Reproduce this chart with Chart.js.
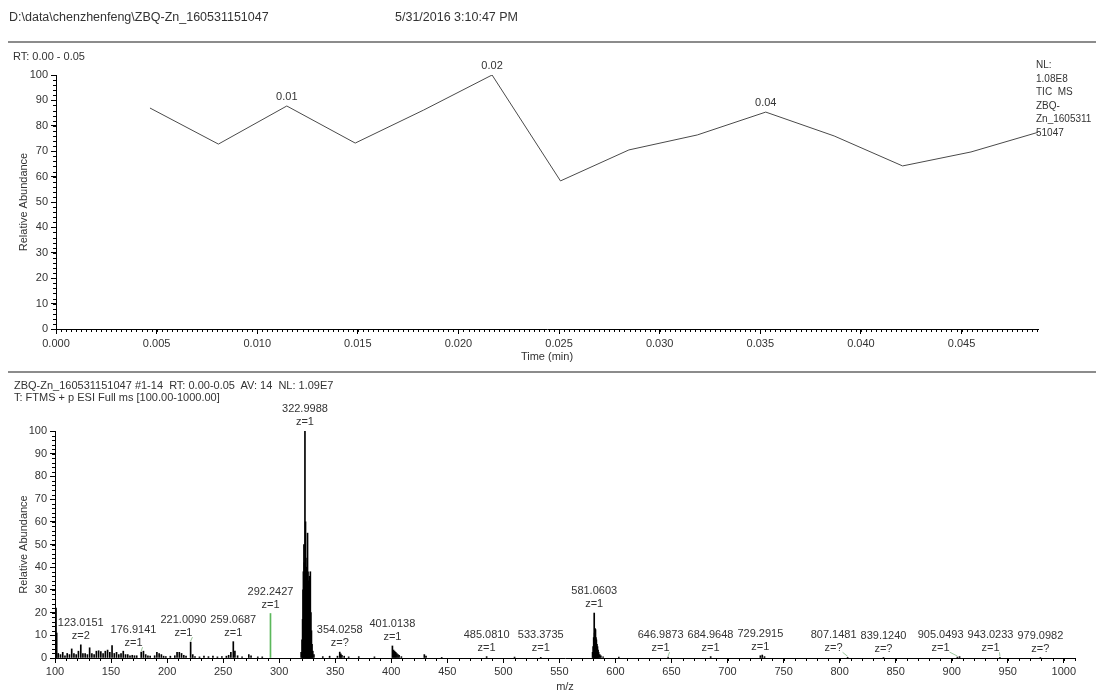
<!DOCTYPE html>
<html>
<head>
<meta charset="utf-8">
<title>ZBQ-Zn_160531151047</title>
<script src="https://cdn.jsdelivr.net/npm/chart.js@4.4.0/dist/chart.umd.min.js"></script>
<style>
  body { margin: 0; background: #fff; font-family: Arial, "Liberation Sans", sans-serif; color: #333; }
  #page { position: relative; width: 1096px; height: 691px; overflow: hidden; }
  .txt { position: absolute; font-size: 12.5px; white-space: pre; line-height: 14px; z-index: 2; }
  .small { font-size: 11px; }
  .rule { position: absolute; left: 8px; right: 0; height: 2px; background: #8c8c8c; z-index: 2; }
  canvas { position: absolute; left: 0; }
</style>
</head>
<body>
<div id="page">
  <div class="txt" style="left:9px;top:10px">D:\data\chenzhenfeng\ZBQ-Zn_160531151047</div>
  <div class="txt" style="left:395px;top:10px">5/31/2016 3:10:47 PM</div>
  <div class="rule" style="top:41px"></div>
  <div class="txt small" style="left:13px;top:49px">RT: 0.00 - 0.05</div>
  <div class="txt small" style="left:1036px;top:58px;line-height:13.5px;font-size:10px">NL:
1.08E8
TIC  MS
ZBQ-
Zn_1605311
51047</div>
  <canvas id="tic" width="1096" height="370" style="top:0"></canvas>

  <div class="rule" style="top:371px"></div>
  <div class="txt small" style="left:14px;top:379px;line-height:12px">ZBQ-Zn_160531151047 #1-14  RT: 0.00-0.05  AV: 14  NL: 1.09E7
T: FTMS + p ESI Full ms [100.00-1000.00]</div>
  <canvas id="spec" width="1096" height="319" style="top:372px"></canvas>
</div>

<script>
// TIC trace (time in min, relative abundance %)
const ticTimes = [0.00467, 0.00807, 0.01147, 0.01487, 0.01827, 0.02167, 0.02507,
                  0.02847, 0.03187, 0.03527, 0.03867, 0.04207, 0.04547, 0.04887];
const ticAbund = [87.0, 72.8, 87.8, 73.2, 86.2, 100, 58.3, 70.5, 76.4, 85.4, 76.0, 64.2, 69.7, 77.6];
const ticTimeTicks = [0, 0.005, 0.010, 0.015, 0.020, 0.025, 0.030, 0.035, 0.040, 0.045];
const abundTicks = [0, 10, 20, 30, 40, 50, 60, 70, 80, 90, 100];

// Labelled centroids of the averaged spectrum
const labelMz = [123.0151, 176.9141, 221.0090, 259.0687, 292.2427, 322.9988, 354.0258, 401.0138,
                 485.0810, 533.3735, 581.0603, 646.9873, 684.9648, 729.2915, 807.1481, 839.1240,
                 905.0493, 943.0233, 979.0982];
const labelAbund = [5.8, 2.6, 7.0, 7.2, 19.6, 100, 2.6, 5.3, 0.6, 0.3, 19.8, 0.4, 0.6, 1.0, 0.3, 0.2,
                    0.4, 0.3, 0.2];
const labelCharge = ['2', '1', '1', '1', '1', '1', '?', '1', '1', '1', '1', '1', '1', '1', '?', '?',
                     '1', '1', '?'];

// Unlabelled peaks
const otherMz = [100.9, 101.5, 102.9, 104.9, 106.9, 108.9, 110.9, 112.9, 114.9, 116.9, 118.9, 120.9,
                 124.9, 126.9, 128.9, 130.9, 132.9, 134.9, 136.9, 138.9, 140.9, 142.9, 144.9, 146.9,
                 148.9, 150.9, 152.9, 154.9, 156.9, 158.9, 160.9, 162.9, 164.9, 166.9, 168.9, 170.9,
                 172.9, 178.9, 180.9, 182.9, 184.9, 188.9, 190.9, 192.9, 194.9, 196.9, 198.9, 202.9,
                 206.9, 208.9, 210.9, 212.9, 214.9, 216.9, 222.9, 224.9, 228.9, 232.9, 236.9, 240.9,
                 244.9, 248.9, 252.9, 254.9, 256.9, 260.5, 262.9, 266.9, 272.9, 274.9, 280.9, 284.9,
                 319.6, 320.4, 320.9, 321.3, 321.6, 322.1, 322.5, 323.5, 323.8, 324.2, 324.6, 325.0,
                 325.3, 325.7, 326.1, 326.5, 327.0, 327.4, 327.8, 328.3, 328.8, 329.3, 330.0, 331.0,
                 338.9, 345.0, 352.0, 355.0, 356.0, 358.0, 362.0, 371.0, 385.0,
                 402.0, 403.0, 404.0, 405.0, 406.0, 407.0, 409.0, 429.5, 431.0, 445.0, 510.0,
                 579.6, 580.1, 580.6, 581.4, 581.8, 582.2, 582.6, 583.0, 583.5, 584.0, 584.5, 585.0,
                 586.0, 587.0, 589.0, 603.0, 731.0, 733.0, 907.0];
const otherAbund = [22.0, 11.0, 2.0, 1.5, 2.5, 1.0, 2.0, 1.5, 4.0, 2.0, 1.5, 3.0,
                    2.0, 2.0, 1.5, 4.5, 2.0, 1.5, 3.0, 3.2, 2.8, 2.0, 3.0, 3.5,
                    2.5, 5.5, 2.0, 2.5, 1.5, 2.0, 3.0, 1.5, 1.5, 1.0, 1.2, 1.0,
                    1.0, 3.0, 1.5, 1.0, 0.8, 1.0, 2.5, 2.0, 1.5, 0.8, 0.6, 0.8,
                    1.0, 2.5, 2.5, 2.0, 1.2, 0.8, 1.5, 0.6, 0.5, 0.8, 0.6, 0.8,
                    0.5, 0.6, 0.8, 1.2, 2.5, 3.0, 1.0, 0.5, 1.5, 1.0, 0.5, 0.5,
                    2.5, 8.0, 17.0, 30.0, 38.0, 50.0, 42.0, 60.0, 44.0, 40.0, 36.0, 39.0,
                    55.0, 38.0, 34.0, 30.0, 36.0, 26.0, 38.0, 20.0, 12.0, 6.0, 3.0, 1.5,
                    0.6, 0.8, 0.8, 1.8, 1.2, 0.8, 0.5, 0.6, 0.5,
                    3.5, 3.0, 2.5, 2.0, 1.5, 1.2, 0.6, 1.5, 0.8, 0.3, 0.4,
                    2.5, 5.0, 9.0, 11.0, 13.0, 12.5, 9.0, 8.0, 6.0, 5.0, 3.5, 2.5,
                    1.5, 1.0, 0.5, 0.4, 1.3, 0.6, 0.6];
const mzTicks = [100, 150, 200, 250, 300, 350, 400, 450, 500, 550, 600, 650, 700, 750, 800, 850,
                 900, 950, 1000];

const highlightMz = 292.2427;
const textColor = '#333';

Chart.defaults.font.family = 'Arial, "Liberation Sans", sans-serif';
Chart.defaults.font.size = 11;
Chart.defaults.color = textColor;

// small ticks between the labelled ones, plus the axis titles
const axisExtras = {
  id: 'axisExtras',
  afterDraw(chart, args, opts) {
    const { ctx, chartArea: area, scales: { x, y } } = chart;
    ctx.save();
    ctx.strokeStyle = '#000';
    ctx.lineWidth = 1;
    ctx.beginPath();
    const nx = Math.round((x.max - x.min) / opts.xStep);
    for (let i = 0; i <= nx; i++) {
      const px = Math.round(x.getPixelForValue(x.min + i * opts.xStep)) + 0.5;
      ctx.moveTo(px, area.bottom);
      ctx.lineTo(px, area.bottom + 3);
    }
    const ny = Math.round((y.max - y.min) / opts.yStep);
    for (let i = 0; i <= ny; i++) {
      const py = Math.round(y.getPixelForValue(y.min + i * opts.yStep)) + 0.5;
      ctx.moveTo(area.left - 3, py);
      ctx.lineTo(area.left, py);
    }
    ctx.stroke();

    ctx.fillStyle = textColor;
    ctx.font = '11px Arial, "Liberation Sans", sans-serif';
    ctx.textAlign = 'center';
    ctx.textBaseline = 'middle';
    ctx.fillText(opts.xTitle, (area.left + area.right) / 2, area.bottom + opts.xTitleGap);
    ctx.translate(24, (area.top + area.bottom) / 2);
    ctx.rotate(-Math.PI / 2);
    ctx.fillText(opts.yTitle, 0, 0);
    ctx.restore();
  }
};

// retention time above each local maximum of the trace
const apexLabels = {
  id: 'apexLabels',
  afterDatasetsDraw(chart) {
    const { ctx, scales: { x, y } } = chart;
    ctx.save();
    ctx.fillStyle = textColor;
    ctx.font = '11px Arial, "Liberation Sans", sans-serif';
    ctx.textAlign = 'center';
    ctx.textBaseline = 'middle';
    for (let i = 1; i < ticAbund.length - 1; i++) {
      if (ticAbund[i] > ticAbund[i - 1] && ticAbund[i] > ticAbund[i + 1]) {
        ctx.fillText(ticTimes[i].toFixed(2), x.getPixelForValue(ticTimes[i]),
                     y.getPixelForValue(ticAbund[i]) - 9);
      }
    }
    ctx.restore();
  }
};

// m/z and charge over the labelled peaks, pushed left when they collide
const peakLabels = {
  id: 'peakLabels',
  afterDatasetsDraw(chart) {
    const { ctx, scales: { x, y } } = chart;
    ctx.save();
    ctx.font = '11px Arial, "Liberation Sans", sans-serif';
    const items = labelMz.map((m, i) => {
      const px = x.getPixelForValue(m);
      const py = y.getPixelForValue(labelAbund[i]);
      const t1 = m.toFixed(4);
      const t2 = 'z=' + labelCharge[i];
      const w = Math.max(ctx.measureText(t1).width, ctx.measureText(t2).width);
      const zy = py - 9;
      return { px, py, cx: px, zy, top: zy - 19, bottom: zy + 6, w, t1, t2 };
    });
    const placed = [];
    items.slice().sort((a, b) => b.px - a.px).forEach(it => {
      placed.forEach(p => {
        const overlapV = it.top < p.bottom && it.bottom > p.top;
        if (overlapV && it.cx + it.w / 2 + 4 > p.cx - p.w / 2) {
          it.cx = p.cx - p.w / 2 - 4 - it.w / 2;
        }
      });
      placed.push(it);
    });
    ctx.textAlign = 'center';
    ctx.textBaseline = 'middle';
    items.forEach(it => {
      if (it.px - it.cx > 3) {
        ctx.strokeStyle = '#9cc79c';
        ctx.lineWidth = 1;
        ctx.beginPath();
        ctx.moveTo(it.cx + 9, it.zy + 4);
        ctx.lineTo(it.px, it.py - 1);
        ctx.stroke();
      }
      ctx.fillStyle = textColor;
      ctx.fillText(it.t1, it.cx, it.zy - 13);
      ctx.fillText(it.t2, it.cx, it.zy);
    });
    ctx.restore();
  }
};

function fixedTicks(values) {
  return scale => { scale.ticks = values.map(v => ({ value: v })); };
}

const ticChart = new Chart(document.getElementById('tic'), {
  type: 'line',
  data: {
    datasets: [{
      data: ticTimes.map((t, i) => ({ x: t, y: ticAbund[i] })),
      borderColor: '#4a4a4a',
      borderWidth: 1,
      pointRadius: 0,
      tension: 0
    }]
  },
  options: {
    responsive: false,
    animation: false,
    devicePixelRatio: 1,
    layout: { padding: { left: 0, top: 75, right: 58, bottom: 0 } },
    plugins: {
      legend: { display: false },
      tooltip: { enabled: false },
      axisExtras: { xStep: 0.00025, yStep: 2, xTitle: 'Time (min)', yTitle: 'Relative Abundance', xTitleGap: 28 }
    },
    scales: {
      x: {
        type: 'linear', min: 0, max: 0.0488,
        afterBuildTicks: fixedTicks(ticTimeTicks),
        afterFit: s => { s.height = 41; },
        ticks: { callback: v => v.toFixed(3), padding: 3, maxRotation: 0, autoSkip: false },
        grid: { drawOnChartArea: false, tickLength: 5, tickColor: '#000' },
        border: { color: '#000' }
      },
      y: {
        min: 0, max: 100,
        afterBuildTicks: fixedTicks(abundTicks),
        afterFit: s => { s.width = 56; },
        ticks: { padding: 3 },
        grid: { drawOnChartArea: false, tickLength: 5, tickColor: '#000' },
        border: { color: '#000' }
      }
    }
  },
  plugins: [axisExtras, apexLabels]
});

// spectrum sticks: labelled and unlabelled peaks merged and sorted by m/z
const sticks = labelMz.map((m, i) => ({ x: m, y: labelAbund[i] }))
  .concat(otherMz.map((m, i) => ({ x: m, y: otherAbund[i] })))
  .sort((a, b) => a.x - b.x);

const specChart = new Chart(document.getElementById('spec'), {
  type: 'bar',
  data: {
    datasets: [{
      data: sticks,
      backgroundColor: sticks.map(p => p.x === highlightMz ? '#5cb85c' : '#000'),
      barThickness: 1,
      borderWidth: 0
    }]
  },
  options: {
    responsive: false,
    animation: false,
    devicePixelRatio: 1,
    layout: { padding: { left: 0, top: 59, right: 21, bottom: 0 } },
    plugins: {
      legend: { display: false },
      tooltip: { enabled: false },
      axisExtras: { xStep: 10, yStep: 2, xTitle: 'm/z', yTitle: 'Relative Abundance', xTitleGap: 29 }
    },
    scales: {
      x: {
        type: 'linear', min: 100, max: 1010, offset: false,
        afterBuildTicks: fixedTicks(mzTicks),
        afterFit: s => { s.height = 33; },
        ticks: { callback: v => String(v), padding: 2, maxRotation: 0, autoSkip: false },
        grid: { drawOnChartArea: false, tickLength: 5, tickColor: '#000', offset: false },
        border: { color: '#000' }
      },
      y: {
        min: 0, max: 100,
        afterBuildTicks: fixedTicks(abundTicks),
        afterFit: s => { s.width = 55; },
        ticks: { padding: 3 },
        grid: { drawOnChartArea: false, tickLength: 5, tickColor: '#000' },
        border: { color: '#000' }
      }
    }
  },
  plugins: [axisExtras, peakLabels]
});
</script>
</body>
</html>
